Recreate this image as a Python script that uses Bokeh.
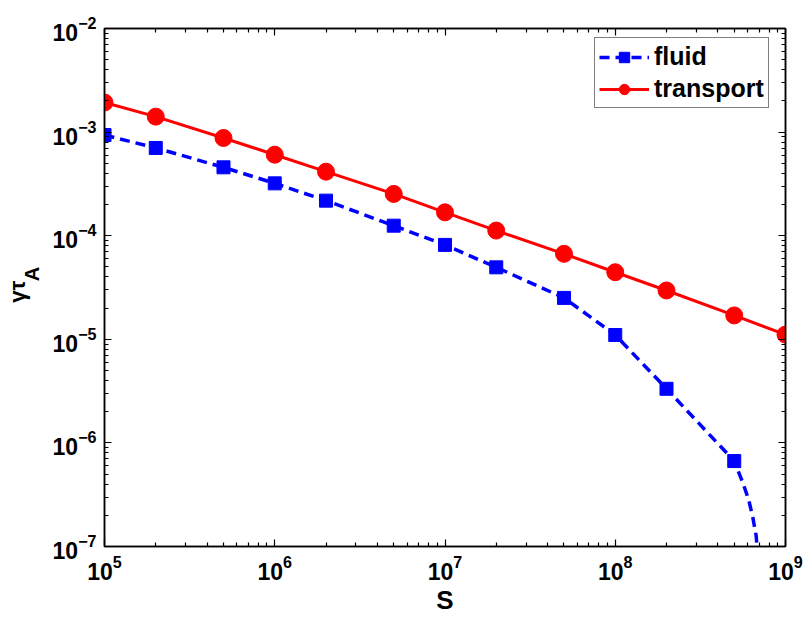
import numpy as np
from bokeh.plotting import figure
from bokeh.layouts import row
from bokeh.models import LogAxis, FixedTicker, Legend, LegendItem, Range1d
from bokeh.core.properties import value
from bokeh.embed import file_html
from bokeh.resources import INLINE

# ---- data ----
S = [1e5, 2e5, 5e5, 1e6, 2e6, 5e6, 1e7, 2e7, 5e7, 1e8, 2e8, 5e8, 1e9]
transport = [1.93e-3, 1.41e-3, 8.77e-4, 6.05e-4, 4.15e-4, 2.53e-4, 1.68e-4,
             1.12e-4, 6.68e-5, 4.44e-5, 2.96e-5, 1.70e-5, 1.11e-5]
fluid_S = [1e5, 2e5, 5e5, 1e6, 2e6, 5e6, 1e7, 2e7, 5e7, 1e8, 2e8, 5e8]
fluid = [9.37e-4, 7.03e-4, 4.57e-4, 3.20e-4, 2.18e-4, 1.25e-4, 8.15e-5,
         4.95e-5, 2.51e-5, 1.10e-5, 3.33e-6, 6.68e-7]
# dashed fluid curve beyond the last marker
fluid_tail_S = [5.64e8, 6.09e8, 6.43e8, 6.73e8, 7.0e8]
fluid_tail = [4.05e-7, 2.79e-7, 1.90e-7, 1.26e-7, 5e-8]

x_ticks = [1e5, 1e6, 1e7, 1e8, 1e9]
y_ticks = [1e-7, 1e-6, 1e-5, 1e-4, 1e-3, 1e-2]

FONT = "Liberation Sans"
W, H = 806, 618
LW = 48                              # width of the y-label strip
FL, FR, FT, FB = 104, 785, 28, 546   # frame edges in canvas pixels

def minors(ticks):
    out = []
    for t in ticks[:-1]:
        out += [m * t for m in range(2, 10)]
    return out

p = figure(x_axis_type="log", y_axis_type="log",
           x_range=Range1d(1e5, 1e9), y_range=Range1d(1e-7, 1e-2),
           frame_width=FR - FL, frame_height=FB - FT,
           min_border_left=FL - LW, min_border_right=W - FR,
           min_border_top=FT, min_border_bottom=H - FB,
           toolbar_location=None, output_backend="svg",
           background_fill_color="white", border_fill_color="white")

p.xgrid.visible = False
p.ygrid.visible = False
p.outline_line_color = "black"
p.outline_line_width = 1.5

p.xaxis.ticker = FixedTicker(ticks=x_ticks, minor_ticks=minors(x_ticks))
p.yaxis.ticker = FixedTicker(ticks=y_ticks, minor_ticks=minors(y_ticks))

for ax in [p.xaxis[0], p.yaxis[0]]:
    ax.major_tick_in = 7
    ax.major_tick_out = 0
    ax.minor_tick_in = 4
    ax.minor_tick_out = 0
    ax.axis_line_width = 1.5
    ax.major_tick_line_width = 1.2
    ax.minor_tick_line_width = 1.2
    ax.major_label_text_font = FONT
    ax.major_label_text_font_style = "bold"
    ax.major_label_text_font_size = "23px"
    ax.major_label_text_color = "black"

p.xaxis.major_label_standoff = 8
p.yaxis.major_label_standoff = 8
p.xaxis.axis_label = "S"
p.xaxis.axis_label_text_font = FONT
p.xaxis.axis_label_text_font_style = "bold"
p.xaxis.axis_label_text_font_size = "26px"
p.xaxis.axis_label_text_color = "black"
p.xaxis.axis_label_standoff = 2

# mirrored tick axes on top and right (labels invisible)
for loc, tk in [("above", x_ticks), ("right", y_ticks)]:
    ax = LogAxis(ticker=FixedTicker(ticks=tk, minor_ticks=minors(tk)),
                 major_tick_in=7, major_tick_out=0,
                 minor_tick_in=4, minor_tick_out=0,
                 major_label_text_font_size="2px",
                 major_label_text_alpha=0,
                 major_label_standoff=0,
                 axis_line_width=1.5,
                 major_tick_line_width=1.2, minor_tick_line_width=1.2)
    p.add_layout(ax, loc)

# ---- glyphs ----
fl = p.line(fluid_S + fluid_tail_S, fluid + fluid_tail,
            line_color="#0000FF", line_width=3.5, line_dash="10 6")
fm = p.scatter(fluid_S, fluid, marker="square", size=13,
               fill_color="#0000FF", line_color="#0000FF")
tl = p.line(S, transport, line_color="#FF0000", line_width=3)
tm = p.scatter(S, transport, marker="circle", size=17,
               fill_color="#FF0000", line_color="#FF0000")

legend = Legend(items=[LegendItem(label="fluid", renderers=[fl, fm]),
                       LegendItem(label="transport", renderers=[tl, tm])],
                location=(594 - FL, FB - 108), margin=0, padding=4, spacing=3,
                glyph_width=50, glyph_height=26, label_height=26,
                label_standoff=5,
                label_text_font=FONT, label_text_font_style="bold",
                label_text_font_size="25px", label_text_color="black",
                border_line_color="black", border_line_width=1.5,
                background_fill_color="white", background_fill_alpha=1)
p.add_layout(legend)

# ---- y-axis label strip: gamma tau with subscript A ----
lab = figure(width=LW, height=H, x_range=Range1d(0, LW), y_range=Range1d(0, H),
             min_border=0, x_axis_location=None, y_axis_location=None,
             toolbar_location=None, output_backend="svg",
             background_fill_color="white", border_fill_color="white")
lab.outline_line_color = None
lab.xgrid.visible = False
lab.ygrid.visible = False
# centre positions of the two pieces of the label
lab.text(x=[17], y=[H - 314], text=["γτ"], angle=np.pi / 2,
         text_font=value(FONT), text_font_style="bold", text_font_size="22px",
         text_align="center", text_baseline="middle", text_color="black")
lab.text(x=[31], y=[H - 293], text=["A"], angle=np.pi / 2,
         text_font=value(FONT), text_font_style="bold", text_font_size="20px",
         text_align="center", text_baseline="middle", text_color="black")

layout = row(lab, p, spacing=0)
open("out.html", "w").write(file_html(layout, INLINE))
